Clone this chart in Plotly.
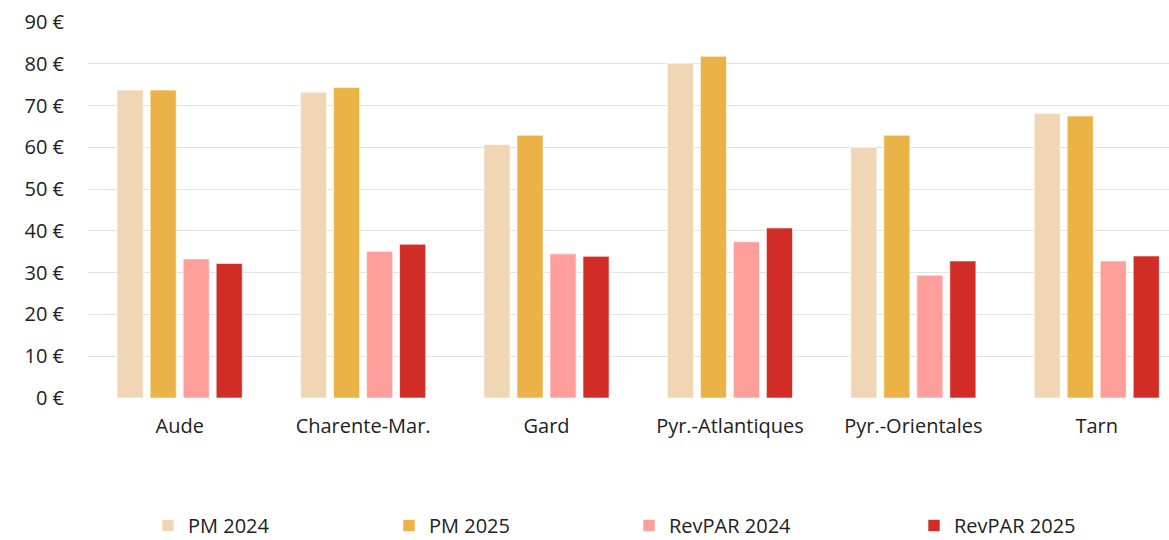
import plotly.graph_objects as go

categories = ["Aude", "Charente-Mar.", "Gard", "Pyr.-Atlantiques", "Pyr.-Orientales", "Tarn"]
pm_2024 = [73.7, 73.2, 60.7, 80.1, 60.0, 68.1]
pm_2025 = [73.7, 74.3, 62.9, 81.8, 62.9, 67.5]
revpar_2024 = [33.3, 35.1, 34.5, 37.4, 29.4, 32.8]
revpar_2025 = [32.2, 36.8, 33.9, 40.7, 32.8, 34.0]
y_ticks = [0, 10, 20, 30, 40, 50, 60, 70, 80, 90]
y_tick_labels = [f"{v} €" for v in y_ticks]

series = [
    ("PM 2024", pm_2024, "#F1D6B5", "legend"),
    ("PM 2025", pm_2025, "#EBB347", "legend2"),
    ("RevPAR 2024", revpar_2024, "#FF9E9A", "legend3"),
    ("RevPAR 2025", revpar_2025, "#D12D26", "legend4"),
]

FONT = "Open Sans"
W, H = 1169, 540
L, T, B = 88, 22, 142
plot_w = W - L
plot_h = H - T - B

fig = go.Figure()
for name, vals, color, leg in series:
    fig.add_trace(go.Bar(
        name=name, x=categories, y=vals, legend=leg, showlegend=True,
        marker=dict(color=color, line=dict(color="rgba(255,255,255,0.6)", width=1)),
    ))

leg_y = -(545 - (T + plot_h)) / plot_h
leg_common = dict(orientation="h", yanchor="bottom", y=leg_y, xanchor="left",
                  font=dict(family=FONT, size=20, color="#222222"),
                  bgcolor="rgba(0,0,0,0)", itemwidth=30, borderwidth=0,
                  visible=True)
legend_px = [148, 389, 629, 914]

fig.update_layout(
    width=W, height=H, showlegend=True,
    margin=dict(l=L, r=0, t=T, b=B, autoexpand=False),
    paper_bgcolor="white", plot_bgcolor="white",
    barmode="group", bargap=0.28, bargroupgap=0.21,
    font=dict(family=FONT, size=20, color="#222222"),
    xaxis=dict(range=[-0.5, 5.394], showgrid=False, zeroline=False, showline=False,
               ticks="outside", ticklen=10, tickcolor="rgba(0,0,0,0)",
               tickfont=dict(family=FONT, size=20, color="#222222")),
    yaxis=dict(range=[0, 90], tickvals=y_ticks, ticktext=y_tick_labels,
               showgrid=True, gridcolor="#e3e3e3", gridwidth=1.3,
               zeroline=False, showline=False, ticklabelstandoff=23,
               tickfont=dict(family=FONT, size=20, color="#222222")),
    legend=dict(x=(legend_px[0] - L) / plot_w, **leg_common),
    legend2=dict(x=(legend_px[1] - L) / plot_w, **leg_common),
    legend3=dict(x=(legend_px[2] - L) / plot_w, **leg_common),
    legend4=dict(x=(legend_px[3] - L) / plot_w, **leg_common),
)

fig.write_html("out.html", config={"displayModeBar": False},
               post_script="document.body.style.margin='0';")
